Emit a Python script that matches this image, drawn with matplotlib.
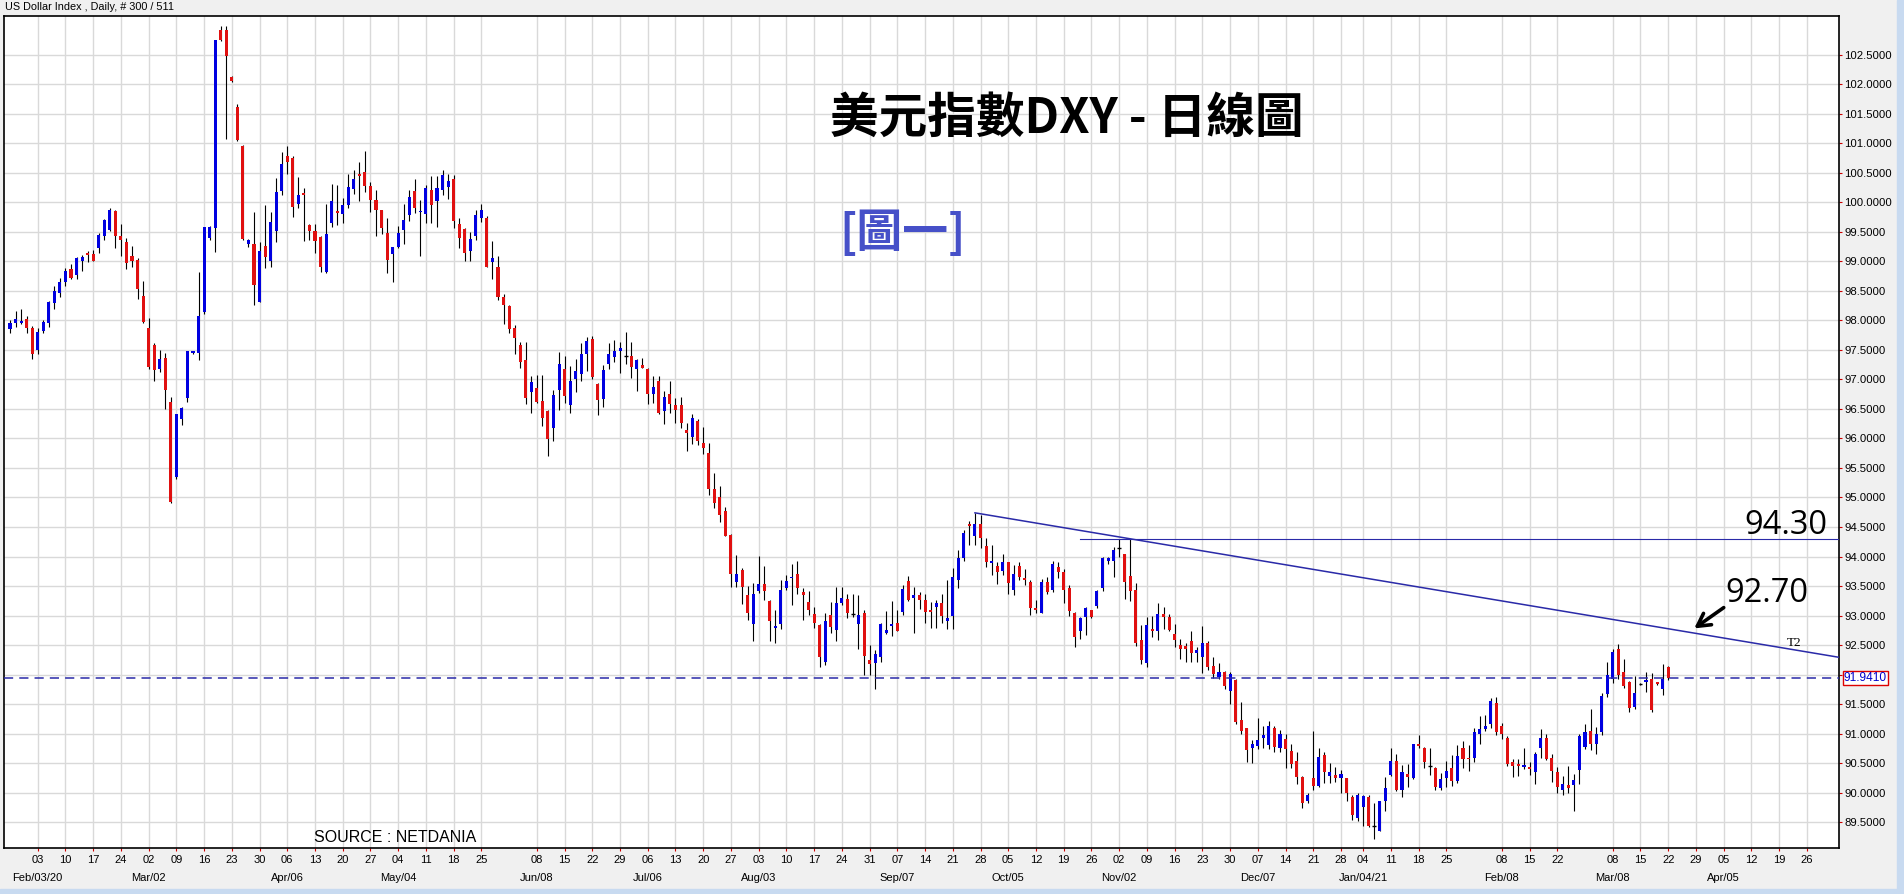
import numpy as np
import pandas as pd
import matplotlib
matplotlib.use('Agg')
import matplotlib.pyplot as plt
from matplotlib.patches import Rectangle

# daily OHLC of the US Dollar Index (Jan 27 2020 .. Mar 22 2021, 300 bars)
open_ = [
    97.85, 97.95, 97.96, 98.02, 97.88, 97.50, 97.82, 97.96, 98.30, 98.46,
    98.65, 98.87, 98.77, 99.01, 99.13, 99.13, 99.22, 99.44, 99.54, 99.86,
    99.43, 99.33, 99.09, 99.03, 98.42, 97.88, 97.58, 97.18, 97.36, 96.62,
    95.34, 96.33, 96.68, 97.45, 97.45, 98.14, 99.39, 99.56, 102.93, 102.93,
    102.13, 101.61, 100.96, 99.30, 99.29, 98.32, 99.26, 99.01, 99.52, 100.20,
    100.79, 100.75, 99.97, 100.15, 99.61, 99.51, 99.41, 98.83, 99.66, 99.86,
    99.80, 99.95, 100.22, 100.48, 100.51, 100.28, 100.05, 99.87, 99.49, 99.12,
    99.25, 99.53, 99.79, 100.19, 99.83, 99.81, 100.21, 100.02, 100.21, 100.27,
    100.40, 99.63, 99.55, 99.18, 99.44, 99.74, 99.74, 98.99, 98.91, 98.40,
    98.25, 97.87, 97.58, 97.33, 96.78, 96.86, 96.64, 96.47, 96.17, 96.82,
    97.18, 96.56, 97.01, 97.09, 97.44, 97.69, 96.93, 96.67, 97.26, 97.38,
    97.49, 97.39, 97.39, 97.17, 97.24, 97.18, 96.76, 96.97, 96.47, 96.75,
    96.56, 96.56, 96.15, 96.02, 96.30, 95.93, 95.75, 95.14, 95.01, 94.77,
    94.37, 93.56, 93.77, 93.34, 92.85, 93.42, 93.54, 93.25, 92.79, 92.85,
    93.46, 93.63, 93.70, 93.39, 93.23, 93.02, 92.84, 92.22, 93.01, 92.75,
    93.22, 93.28, 93.02, 92.85, 93.04, 92.24, 92.20, 92.30, 92.71, 92.83,
    92.88, 93.06, 93.59, 93.29, 93.34, 93.27, 93.08, 93.14, 93.21, 92.91,
    92.99, 93.60, 93.97, 94.55, 94.34, 94.55, 94.18, 93.89, 93.84, 93.76,
    93.90, 93.44, 93.84, 93.64, 93.57, 93.13, 93.05, 93.57, 93.44, 93.83,
    93.73, 93.46, 93.05, 92.74, 92.97, 93.09, 93.16, 93.47, 93.92, 93.93,
    94.14, 94.04, 93.67, 93.43, 92.59, 92.19, 92.77, 92.73, 93.03, 92.97,
    92.69, 92.50, 92.49, 92.56, 92.37, 92.30, 92.54, 92.14, 91.96, 92.05,
    91.72, 91.91, 91.23, 91.09, 90.75, 90.79, 90.93, 90.81, 91.09, 90.75,
    90.90, 90.71, 90.54, 90.27, 89.85, 90.25, 90.11, 90.64, 90.28, 90.30,
    90.24, 90.24, 89.93, 89.56, 89.76, 89.93, 89.43, 89.35, 89.85, 90.30,
    90.54, 90.05, 90.31, 90.24, 90.82, 90.75, 90.45, 90.42, 90.07, 90.25,
    90.41, 90.20, 90.75, 90.59, 90.59, 91.00, 91.07, 91.16, 91.51, 91.13,
    90.93, 90.51, 90.48, 90.44, 90.43, 90.34, 90.75, 90.93, 90.58, 90.34,
    90.05, 90.13, 90.12, 90.38, 90.78, 91.04, 90.83, 91.02, 91.67, 91.92,
    92.44, 92.04, 91.88, 91.45, 91.84, 91.88, 91.92, 91.85, 91.76, 92.12,
]
high = [
    98.01, 98.16, 98.19, 98.08, 97.90, 97.88, 98.01, 98.33, 98.58, 98.72,
    98.89, 98.95, 99.08, 99.11, 99.18, 99.20, 99.49, 99.72, 99.91, 99.87,
    99.63, 99.39, 99.26, 99.06, 98.67, 98.04, 97.61, 97.50, 97.45, 96.71,
    96.42, 96.53, 97.49, 97.49, 98.83, 99.59, 99.60, 102.76, 102.99, 102.99,
    102.14, 101.67, 100.97, 99.38, 99.83, 99.33, 99.96, 99.84, 100.41, 100.85,
    100.95, 100.79, 100.43, 100.24, 99.63, 99.63, 99.44, 99.97, 100.31, 100.29,
    100.07, 100.49, 100.55, 100.68, 100.87, 100.34, 100.21, 99.88, 99.74, 99.25,
    99.60, 99.97, 100.21, 100.40, 100.04, 100.29, 100.45, 100.44, 100.55, 100.49,
    100.47, 99.73, 99.56, 99.50, 99.87, 99.97, 99.77, 99.35, 99.09, 98.45,
    98.26, 97.92, 97.64, 97.63, 97.06, 97.08, 97.08, 96.48, 96.83, 97.46,
    97.40, 97.23, 97.34, 97.61, 97.72, 97.73, 96.94, 97.25, 97.61, 97.67,
    97.64, 97.80, 97.64, 97.35, 97.36, 97.20, 97.06, 97.06, 96.81, 96.98,
    96.68, 96.70, 96.26, 96.42, 96.33, 96.20, 95.93, 95.41, 95.20, 94.84,
    94.38, 94.02, 93.81, 93.50, 93.55, 94.01, 93.84, 93.26, 93.09, 93.60,
    93.69, 93.87, 93.92, 93.46, 93.42, 93.14, 92.85, 93.05, 93.23, 93.48,
    93.49, 93.36, 93.37, 93.35, 93.10, 92.50, 92.41, 92.88, 93.08, 93.25,
    93.09, 93.51, 93.67, 93.48, 93.40, 93.37, 93.23, 93.27, 93.37, 93.60,
    93.81, 94.11, 94.45, 94.61, 94.74, 94.70, 94.32, 94.20, 93.91, 94.04,
    93.91, 93.86, 93.91, 93.79, 93.61, 93.27, 93.62, 93.65, 93.92, 93.90,
    93.78, 93.52, 93.06, 92.98, 93.15, 93.10, 93.44, 93.99, 93.99, 94.16,
    94.30, 94.05, 94.30, 93.55, 92.84, 92.98, 93.00, 93.22, 93.14, 93.03,
    92.86, 92.60, 92.53, 92.74, 92.46, 92.82, 92.56, 92.29, 92.19, 92.06,
    92.05, 91.92, 91.53, 91.10, 90.89, 91.26, 91.13, 91.21, 91.13, 91.06,
    91.00, 90.83, 90.69, 90.28, 89.99, 91.05, 90.75, 90.69, 90.50, 90.44,
    90.38, 90.25, 89.96, 89.99, 89.96, 89.96, 89.83, 89.85, 90.27, 90.75,
    90.65, 90.47, 90.49, 90.83, 90.98, 90.78, 90.75, 90.44, 90.33, 90.53,
    90.64, 90.81, 90.87, 90.81, 91.10, 91.30, 91.31, 91.61, 91.62, 91.18,
    90.95, 90.56, 90.56, 90.76, 90.51, 90.68, 91.07, 90.99, 90.66, 90.44,
    90.28, 90.45, 90.31, 90.99, 91.16, 91.42, 91.11, 91.69, 92.21, 92.43,
    92.51, 92.26, 91.89, 91.98, 91.86, 92.04, 92.02, 91.86, 92.17, 92.15,
]
low = [
    97.79, 97.89, 97.94, 97.79, 97.35, 97.43, 97.78, 97.89, 98.20, 98.40,
    98.58, 98.71, 98.70, 98.84, 98.99, 99.00, 99.15, 99.36, 99.52, 99.22,
    99.09, 98.88, 98.90, 98.36, 97.96, 97.18, 96.98, 97.12, 96.50, 94.90,
    95.31, 96.23, 96.61, 97.43, 97.33, 98.11, 99.36, 99.16, 102.74, 101.08,
    102.04, 101.05, 99.37, 99.25, 98.27, 98.31, 98.89, 98.91, 99.33, 100.13,
    100.48, 99.76, 99.91, 99.35, 99.36, 99.14, 98.83, 98.81, 99.59, 99.61,
    99.65, 99.90, 100.15, 100.02, 100.18, 99.83, 99.44, 99.47, 98.80, 98.65,
    99.22, 99.29, 99.69, 99.82, 99.10, 99.66, 99.66, 99.58, 100.13, 100.06,
    99.57, 99.23, 99.00, 99.01, 99.37, 99.67, 98.90, 98.71, 98.35, 97.94,
    97.78, 97.43, 97.19, 96.58, 96.44, 96.60, 96.22, 95.71, 95.95, 96.49,
    96.60, 96.43, 96.79, 96.98, 97.15, 97.00, 96.39, 96.54, 97.17, 97.29,
    97.11, 97.27, 97.03, 96.81, 97.19, 96.58, 96.60, 96.41, 96.24, 96.44,
    96.27, 96.18, 95.78, 95.90, 95.89, 95.73, 95.05, 94.83, 94.58, 94.34,
    93.48, 93.48, 93.19, 92.93, 92.56, 93.38, 93.26, 92.57, 92.53, 92.77,
    93.43, 93.17, 93.37, 92.93, 93.01, 92.78, 92.13, 92.16, 92.71, 92.57,
    93.18, 92.95, 92.98, 92.43, 91.99, 91.99, 91.75, 92.22, 92.68, 92.66,
    92.74, 93.01, 93.25, 92.71, 93.11, 92.88, 92.79, 92.79, 92.88, 92.77,
    92.77, 93.46, 93.93, 94.20, 94.20, 94.14, 93.83, 93.69, 93.53, 93.69,
    93.37, 93.34, 93.60, 93.51, 93.01, 93.04, 93.04, 93.36, 93.40, 93.64,
    93.22, 93.00, 92.47, 92.61, 92.67, 92.96, 93.13, 93.42, 93.88, 93.66,
    93.99, 93.28, 93.25, 92.49, 92.17, 92.13, 92.63, 92.59, 92.77, 92.73,
    92.47, 92.26, 92.22, 92.22, 92.22, 92.02, 92.08, 91.94, 91.92, 91.76,
    91.50, 91.16, 90.99, 90.51, 90.50, 90.73, 90.75, 90.73, 90.68, 90.68,
    90.42, 90.41, 90.14, 89.74, 89.83, 90.04, 90.09, 90.16, 90.16, 90.18,
    89.99, 89.86, 89.53, 89.51, 89.43, 89.42, 89.22, 89.34, 89.68, 90.28,
    90.03, 89.93, 90.10, 90.23, 90.75, 90.41, 90.30, 90.04, 90.05, 90.10,
    90.11, 90.17, 90.41, 90.37, 90.52, 90.82, 91.04, 91.10, 90.98, 90.91,
    90.45, 90.26, 90.28, 90.40, 90.29, 90.14, 90.58, 90.55, 90.18, 90.00,
    89.96, 89.99, 89.69, 90.14, 90.73, 90.72, 90.65, 90.97, 91.62, 91.86,
    91.92, 91.78, 91.37, 91.42, 91.82, 91.71, 91.37, 91.82, 91.65, 91.91,
]
close = [
    97.96, 98.02, 97.99, 97.88, 97.43, 97.81, 97.97, 98.32, 98.50, 98.65,
    98.84, 98.72, 99.06, 99.08, 99.11, 99.01, 99.45, 99.70, 99.87, 99.44,
    99.36, 98.98, 99.01, 98.53, 97.97, 97.22, 97.16, 97.35, 96.83, 94.92,
    96.41, 96.52, 97.48, 97.48, 98.08, 99.58, 99.58, 102.75, 102.75, 102.48,
    102.05, 101.06, 99.38, 99.36, 98.60, 99.18, 99.07, 99.67, 100.17, 100.65,
    100.69, 99.92, 100.13, 100.13, 99.51, 99.35, 98.90, 99.46, 100.03, 99.82,
    99.95, 100.26, 100.39, 100.44, 100.28, 100.05, 99.87, 99.56, 99.03, 99.24,
    99.48, 99.71, 100.09, 99.91, 99.84, 100.24, 99.95, 100.24, 100.47, 100.37,
    99.69, 99.39, 99.14, 99.38, 99.78, 99.87, 98.91, 99.06, 98.39, 98.26,
    97.85, 97.70, 97.29, 96.69, 96.96, 96.62, 96.34, 95.99, 96.74, 97.26,
    96.72, 96.97, 97.15, 97.44, 97.65, 97.05, 96.66, 97.16, 97.44, 97.48,
    97.54, 97.39, 97.22, 97.33, 97.20, 96.75, 96.88, 96.44, 96.70, 96.58,
    96.48, 96.27, 96.10, 96.34, 95.96, 95.84, 95.14, 94.90, 94.71, 94.35,
    93.70, 93.70, 93.48, 93.05, 93.36, 93.54, 93.41, 92.90, 92.80, 93.44,
    93.59, 93.64, 93.46, 93.35, 93.10, 92.88, 92.29, 92.90, 92.81, 93.21,
    93.30, 93.04, 93.02, 93.01, 92.31, 92.17, 92.34, 92.86, 92.75, 92.84,
    92.74, 93.45, 93.27, 93.35, 93.27, 93.06, 93.06, 93.22, 93.00, 92.96,
    93.66, 93.97, 94.39, 94.52, 94.55, 94.31, 93.91, 93.91, 93.73, 93.90,
    93.55, 93.70, 93.65, 93.61, 93.12, 93.09, 93.56, 93.40, 93.87, 93.73,
    93.44, 93.08, 92.63, 92.96, 93.12, 92.97, 93.42, 93.97, 93.97, 94.11,
    94.14, 93.57, 93.42, 92.53, 92.25, 92.84, 92.74, 93.02, 92.98, 92.75,
    92.59, 92.44, 92.43, 92.37, 92.42, 92.53, 92.13, 92.01, 92.04, 91.81,
    92.01, 91.19, 91.05, 90.72, 90.82, 90.89, 90.98, 91.13, 90.78, 90.99,
    90.73, 90.49, 90.27, 89.82, 89.95, 90.11, 90.61, 90.35, 90.35, 90.24,
    90.31, 90.00, 89.62, 89.95, 89.94, 89.43, 89.43, 89.85, 90.07, 90.54,
    90.05, 90.34, 90.27, 90.82, 90.79, 90.51, 90.45, 90.09, 90.23, 90.36,
    90.20, 90.62, 90.56, 90.56, 91.02, 91.08, 91.13, 91.55, 91.02, 90.99,
    90.48, 90.45, 90.45, 90.45, 90.40, 90.65, 90.93, 90.57, 90.37, 90.10,
    90.15, 90.08, 90.21, 90.95, 91.02, 90.83, 90.99, 91.64, 92.00, 92.39,
    92.00, 91.81, 91.44, 91.69, 91.84, 91.89, 91.40, 91.84, 91.92, 91.941,
]

first_day = '2020-01-27'
holidays = ['2021-01-01']          # no bar on New Year's day
trend_bars = [174, 202]            # the two highs the T2 line is drawn through
level_start = 193                  # the 94.30 line starts here
level_bar = 202

blue = '#0000e0'
red = '#e01010'
line_blue = '#2a2aa8'

o = np.array(open_)
h = np.array(high)
l = np.array(low)
c = np.array(close)
n = len(c)
x = np.arange(n)
last = c[-1]

W, H = 1904, 894
fig = plt.figure(figsize=(W / 100, H / 100), dpi=100, facecolor='#f0f0f0')
ax = fig.add_axes([4 / W, 46 / H, 1835 / W, 832 / H])
ax.set_facecolor('white')
xmax = 329.8
ax.set_xlim(-1.08, xmax)
ax.set_ylim(89.06, 103.16)

# candles
doji = np.abs(c - o) < 0.005
col = np.where(c >= o, blue, red)
ax.vlines(x, l, h, color='black', lw=0.8, zorder=3)
bottom = np.minimum(o, c)
height = np.maximum(np.abs(c - o), 0.03)
ax.bar(x[~doji], height[~doji], bottom=bottom[~doji], width=0.55,
       color=col[~doji], lw=0, zorder=4)
ax.hlines(c[doji], x[doji] - 0.35, x[doji] + 0.35, color='black', lw=1, zorder=4)

# trend line through two highs, extended to the right edge
x1, x2 = trend_bars
slope = (h[x2] - h[x1]) / (x2 - x1)
ax.plot([x1, xmax], [h[x1], h[x1] + slope * (xmax - x1)], color=line_blue, lw=1.1, zorder=5)
ax.plot([level_start, xmax], [h[level_bar], h[level_bar]], color=line_blue, lw=0.8, zorder=5)
ax.axhline(last, color=line_blue, lw=1.1, ls=(0, (6, 4)), zorder=5)

# x ticks on Mondays
days = pd.bdate_range(first_day, '2021-06-30')
days = days[~days.isin(pd.to_datetime(holidays))]
tick_pos, tick_lab, months = [], [], []
seen = set()
for i, d in enumerate(days):
    if i < 5 or i > 326:
        continue
    if d.weekday() != 0 or d.day == 1:
        continue
    tick_pos.append(i)
    tick_lab.append(d.strftime('%d'))
    key = (d.year, d.month)
    if key not in seen:
        seen.add(key)
        if not months or d.month == 1:
            lab = d.strftime('%b/%d/%y')
        else:
            lab = d.strftime('%b/%d')
        months.append((i, lab))

ax.set_xticks(tick_pos)
ax.set_xticklabels(tick_lab)
for i, lab in months:
    ax.annotate(lab, xy=(i, 0), xycoords=('data', 'axes fraction'),
                xytext=(0, -30), textcoords='offset pixels',
                ha='center', va='center', fontsize=8, family='Liberation Sans')

yt = np.arange(89.5, 102.51, 0.5)
ax.set_yticks(yt)
ax.set_yticklabels(['' if abs(v - last) < 0.15 else f'{v:.4f}' for v in yt])
ax.yaxis.tick_right()
ax.tick_params(axis='y', length=2.5, color='#cc0000', labelsize=8.2, pad=1.5)
ax.tick_params(axis='x', length=2.5, color='#cc0000', labelsize=8, pad=2.5)
for t in ax.get_xticklabels() + ax.get_yticklabels():
    t.set_family('Liberation Sans')

ax.grid(color='#d9d9d9', lw=1)
ax.set_axisbelow(True)
for s in ax.spines.values():
    s.set_color('black')
    s.set_linewidth(1.2)

# current price box
ax.annotate(f'{last:.4f}', xy=(1, last), xycoords=('axes fraction', 'data'),
            xytext=(5, 0), textcoords='offset pixels', ha='left', va='center',
            fontsize=8.6, color='#0000cc', family='Liberation Sans',
            bbox=dict(boxstyle='square,pad=0.12', fc='white', ec='#dd0000', lw=1))

# texts
cjk = ['Noto Sans CJK TC', 'DejaVu Sans']
fig.text(5 / W, 1 - 7 / H, 'US Dollar Index , Daily, # 300 / 511', ha='left', va='center',
         fontsize=7.8, family='Liberation Sans')
fig.text(1067 / W, 1 - 118 / H, '美元指數DXY - 日線圖', ha='center', va='center',
         fontsize=35, weight='bold', family=cjk)
fig.text(903 / W, 1 - 234 / H, '[圖一]', ha='center', va='center',
         fontsize=33, weight='bold', color='#4650c8', family=cjk)
fig.text(395 / W, 1 - 838 / H, 'SOURCE : NETDANIA', ha='center', va='center',
         fontsize=11.5, family='Liberation Sans')
fig.text(1786 / W, 1 - 525 / H, '94.30', ha='center', va='center', fontsize=23.5,
         family='Open Sans')
fig.text(1767 / W, 1 - 594 / H, '92.70', ha='center', va='center', fontsize=23.5,
         family='Open Sans')
fig.text(1794 / W, 1 - 643 / H, 'T2', ha='center', va='center', fontsize=9.5,
         family='Liberation Serif')
ax.annotate('', xy=(1692, H - 630), xycoords='figure pixels',
            xytext=(1726, H - 606), textcoords='figure pixels',
            arrowprops=dict(arrowstyle='->,head_length=0.9,head_width=0.5', lw=2.6,
                            color='black'))

# thin light blue strips at the window edges
fig.patches.append(Rectangle((1897 / W, 0), 7 / W, 1, transform=fig.transFigure,
                             color='#c8daf0', zorder=0))
fig.patches.append(Rectangle((0, 0), 1, 5 / H, transform=fig.transFigure,
                             color='#c8daf0', zorder=0))

fig.savefig('out.png', dpi=100, facecolor=fig.get_facecolor())
